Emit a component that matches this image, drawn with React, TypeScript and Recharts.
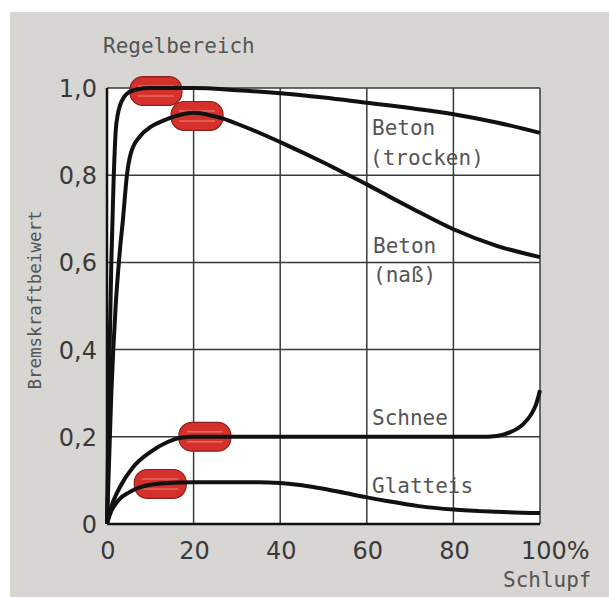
import React from "react";
import {
  LineChart,
  Line,
  XAxis,
  YAxis,
  CartesianGrid,
  ReferenceArea,
} from "recharts";

// Schlupf (%) and Bremskraftbeiwert per road surface
const trockenSlip = [0, 0.5, 1, 1.5, 2, 2.5, 3, 4, 5, 7, 10, 20, 30, 40, 50, 60, 70, 80, 90, 100];
const trockenMu = [0, 0.35, 0.6, 0.78, 0.9, 0.94, 0.96, 0.98, 0.99, 0.997, 1.0, 1.0, 0.995, 0.988, 0.978, 0.966, 0.954, 0.94, 0.921, 0.897];

const nassSlip = [0, 1, 2, 3, 3.7, 4.6, 5.5, 7.7, 10, 13, 16, 20, 24, 27, 30, 35, 40, 45, 50, 55, 60, 65, 70, 80, 90, 100];
const nassMu = [0, 0.3, 0.5, 0.63, 0.7, 0.8, 0.85, 0.89, 0.91, 0.925, 0.936, 0.943, 0.937, 0.929, 0.918, 0.898, 0.876, 0.853, 0.829, 0.804, 0.779, 0.752, 0.726, 0.676, 0.638, 0.612];

const schneeSlip = [0, 0.5, 1, 2, 3, 6, 10, 14, 17, 20, 30, 50, 70, 86, 90, 93, 96, 98, 99, 100];
const schneeMu = [0, 0.025, 0.04, 0.065, 0.085, 0.13, 0.165, 0.188, 0.198, 0.2, 0.2, 0.2, 0.2, 0.2, 0.202, 0.21, 0.228, 0.252, 0.272, 0.307];

const glatteisSlip = [0, 1, 2, 3, 5, 7, 10, 14, 20, 30, 35, 40, 45, 50, 55, 60, 65, 72, 80, 90, 100];
const glatteisMu = [0, 0.03, 0.046, 0.058, 0.072, 0.082, 0.09, 0.094, 0.096, 0.096, 0.096, 0.094, 0.089, 0.081, 0.071, 0.061, 0.052, 0.041, 0.033, 0.028, 0.025];

// Regelbereich markers (centre slip, centre value)
const markerSlip = [11.3, 20.8, 22.6, 12.3];
const markerMu = [0.993, 0.936, 0.2, 0.092];

const xTicks = [0, 20, 40, 60, 80, 100];
const yTicks = [0, 0.2, 0.4, 0.6, 0.8, 1.0];

const toRows = (slip: number[], mu: number[]) =>
  slip.map((s, i) => ({ slip: s, mu: mu[i] }));

const curves = [
  toRows(trockenSlip, trockenMu),
  toRows(nassSlip, nassMu),
  toRows(schneeSlip, schneeMu),
  toRows(glatteisSlip, glatteisMu),
];

const tickFont = "'DejaVu Sans', sans-serif";
const monoFont = "'DejaVu Sans Mono', monospace";

const XTick = (props: any) => {
  const { x, y, payload } = props;
  if (payload.value === 100) {
    return (
      <text x={x - 19} y={y + 35} textAnchor="start" fontFamily={tickFont} fontSize={24} fill="#3a3a3a">
        100%
      </text>
    );
  }
  return (
    <text x={x + 1} y={y + 35} textAnchor="middle" fontFamily={tickFont} fontSize={24} fill="#3a3a3a">
      {payload.value}
    </text>
  );
};

const YTick = (props: any) => {
  const { x, y, payload } = props;
  const label = payload.value === 0 ? "0" : payload.value.toFixed(1).replace(".", ",");
  return (
    <text x={x} y={y + 9} textAnchor="end" fontFamily={tickFont} fontSize={24} fill="#3a3a3a">
      {label}
    </text>
  );
};

const Pill = (props: any) => {
  const { x, y, width, height } = props;
  return (
    <g>
      <rect
        x={x}
        y={y}
        width={width}
        height={height}
        rx={13}
        ry={13}
        fill="#d5302b"
        stroke="#8c1f1c"
        strokeWidth={1.2}
      />
      <line x1={x + 8} x2={x + width - 8} y1={y + height / 2 - 5} y2={y + height / 2 - 5} stroke="#e86a60" strokeWidth={1.5} />
      <line x1={x + 8} x2={x + width - 8} y1={y + height / 2 + 5} y2={y + height / 2 + 5} stroke="#e86a60" strokeWidth={1.5} />
    </g>
  );
};

const labels = [
  { text: "Beton", x: 372, y: 135 },
  { text: "(trocken)", x: 370, y: 165 },
  { text: "Beton", x: 373, y: 253 },
  { text: "(naß)", x: 373, y: 282 },
  { text: "Schnee", x: 372, y: 425 },
  { text: "Glatteis", x: 372, y: 493 },
  { text: "Regelbereich", x: 103, y: 53 },
  { text: "Schlupf", x: 503, y: 587 },
];

export default function App() {
  return (
    <div style={{ position: "absolute", left: 0, top: 0, width: 609, height: 597, background: "#ffffff" }}>
      <div style={{ position: "absolute", left: 10, top: 12, width: 599, height: 585, background: "#d8d6d3" }} />
      <div style={{ position: "absolute", left: 0, top: 0 }}>
        <LineChart width={609} height={597} margin={{ top: 88, right: 69, bottom: 43, left: 47 }}>
          <CartesianGrid fill="#ffffff" fillOpacity={1} stroke="#3a3a3a" strokeWidth={1.5} horizontalValues={yTicks} verticalValues={xTicks} />
          <XAxis
            type="number"
            dataKey="slip"
            domain={[0, 100]}
            ticks={xTicks}
            height={30}
            tickSize={0}
            tickMargin={0}
            tick={<XTick />}
            axisLine={{ stroke: "#111", strokeWidth: 2.5 }}
            tickLine={false}
            allowDuplicatedCategory={false}
          />
          <YAxis
            type="number"
            dataKey="mu"
            domain={[0, 1]}
            ticks={yTicks}
            width={60}
            tickSize={0}
            tickMargin={10}
            tick={<YTick />}
            axisLine={{ stroke: "#111", strokeWidth: 2.5 }}
            tickLine={false}
          />
          {markerSlip.map((s, i) => (
            <ReferenceArea
              key={`m-${i}`}
              x1={s - 6}
              x2={s + 6}
              y1={markerMu[i] - 0.033}
              y2={markerMu[i] + 0.033}
              ifOverflow="visible"
              shape={<Pill />}
            />
          ))}
          {curves.map((rows, i) => (
            <Line
              key={`c-${i}`}
              data={rows}
              dataKey="mu"
              type="monotone"
              stroke="#111111"
              strokeWidth={4}
              dot={false}
              isAnimationActive={false}
            />
          ))}
        </LineChart>
      </div>
      <svg width={609} height={597} style={{ position: "absolute", left: 0, top: 0, pointerEvents: "none" }}>
        {labels.map((l) => (
          <text key={l.text + l.y} x={l.x} y={l.y} fontFamily={monoFont} fontSize={21} fill="#555">
            {l.text}
          </text>
        ))}
        <text
          x={41}
          y={300}
          transform="rotate(-90 41 300)"
          textAnchor="middle"
          fontFamily={monoFont}
          fontSize={17.5}
          fill="#555"
        >
          Bremskraftbeiwert
        </text>
      </svg>
    </div>
  );
}
